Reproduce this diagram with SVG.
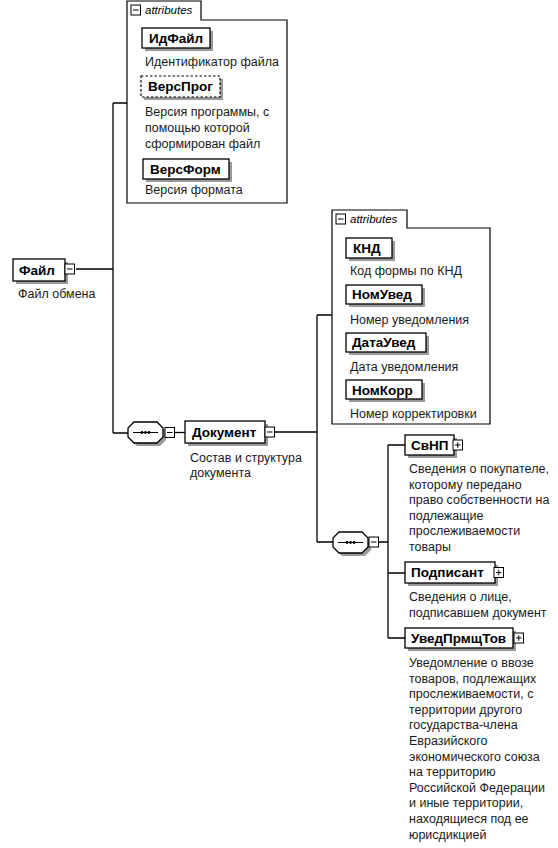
<svg xmlns="http://www.w3.org/2000/svg" width="558" height="848" viewBox="0 0 558 848">
<defs>
<style>
.bg{fill:#fff}
.box{fill:#fff;stroke:#000;stroke-width:1.3}
.dash{fill:#fff;stroke:#000;stroke-width:1.2;stroke-dasharray:2.5 2}
.sh{fill:#9a9a9a}
.attr{fill:#fff;stroke:#000;stroke-width:1.2}
.ln{fill:none;stroke:#000;stroke-width:1.3}
.ic{fill:#fff;stroke:#000;stroke-width:1}
.icl{fill:none;stroke:#000;stroke-width:1}
.nm{font-family:"Liberation Sans",Arial,sans-serif;font-weight:bold;font-size:13.5px;fill:#000}
.ds{font-family:"Liberation Sans",Arial,sans-serif;font-size:12.5px;fill:#1a1a1a}
.at{font-family:"Liberation Sans",Arial,sans-serif;font-style:italic;font-size:11.5px;fill:#000}
</style>
<g id="minus"><rect class="ic" x="0" y="0" width="9.5" height="10"/><path class="icl" d="M2 5H7.5"/></g>
<g id="plus"><rect class="ic" x="0" y="0" width="9.5" height="10"/><path class="icl" d="M2 5H7.5M4.75 2.2V7.8"/></g>
<g id="seq">
<polygon class="sh" points="9,3 32,3 38,9 38,18 32,24 9,24 3,18 3,9"/>
<polygon class="box" points="6,0 29,0 35,6 35,15 29,21 6,21 0,15 0,6"/>
<path class="icl" d="M5 10.5H30"/>
<circle cx="14" cy="10.5" r="1.4"/><circle cx="17.5" cy="10.5" r="1.4"/><circle cx="21" cy="10.5" r="1.4"/>
</g>
</defs>
<rect class="bg" x="0" y="0" width="558" height="848"/>

<g id="connectors">
<path class="ln" d="M76 269H113M113 103V433M113 103H127M113 433H128"/>
<path class="ln" d="M174 432.5H185"/>
<path class="ln" d="M275 432H317M317 315V542M317 315H332M317 542H333"/>
<path class="ln" d="M378 542H388M388 445V638M388 445H405M388 573H405M388 638H405"/>
</g>

<g id="attributes1">
<path class="attr" d="M127 1H201V20H287V203H127Z"/>
<use href="#minus" x="131" y="5"/>
<text class="at" x="145" y="14">attributes</text>
</g>
<g id="ИдФайл">
<rect class="sh" x="145" y="31" width="68" height="20"/>
<rect class="box" x="142" y="28" width="68" height="20"/>
<text class="nm" x="149" y="43">ИдФайл</text>
<text class="ds" x="145" y="66">Идентификатор файла</text>
</g>
<g id="ВерсПрог">
<rect class="sh" x="144" y="79" width="79" height="21"/>
<rect class="dash" x="141" y="76" width="79" height="21"/>
<text class="nm" x="148" y="91">ВерсПрог</text>
<text class="ds" x="145" y="116">Версия программы, с</text>
<text class="ds" x="145" y="132">помощью которой</text>
<text class="ds" x="145" y="148">сформирован файл</text>
</g>
<g id="ВерсФорм">
<rect class="sh" x="146" y="162" width="86" height="20"/>
<rect class="box" x="143" y="159" width="86" height="20"/>
<text class="nm" x="150" y="174">ВерсФорм</text>
<text class="ds" x="145" y="194">Версия формата</text>
</g>

<g id="Файл">
<rect class="sh" x="16" y="262" width="52" height="22"/>
<rect class="box" x="13" y="259" width="52" height="22"/>
<text class="nm" x="19" y="275">Файл</text>
<use href="#minus" x="65" y="264"/>
<text class="ds" x="18" y="298">Файл обмена</text>
</g>

<g id="seq1">
<use href="#seq" x="128" y="422"/>
<use href="#minus" x="165" y="427.5"/>
</g>

<g id="Документ">
<rect class="sh" x="188" y="424" width="80" height="22"/>
<rect class="box" x="185" y="421" width="80" height="22"/>
<text class="nm" x="192" y="437">Документ</text>
<use href="#minus" x="265" y="427"/>
<text class="ds" x="190" y="462">Состав и структура</text>
<text class="ds" x="190" y="477">документа</text>
</g>

<g id="attributes2">
<path class="attr" d="M332 210H407V228H490V424H332Z"/>
<use href="#minus" x="336" y="214"/>
<text class="at" x="350" y="223">attributes</text>
</g>
<g id="КНД">
<rect class="sh" x="349" y="241" width="46" height="20"/>
<rect class="box" x="346" y="238" width="46" height="20"/>
<text class="nm" x="353" y="253">КНД</text>
<text class="ds" x="350" y="275">Код формы по КНД</text>
</g>
<g id="НомУвед">
<rect class="sh" x="349" y="288" width="76" height="19"/>
<rect class="box" x="346" y="285" width="76" height="19"/>
<text class="nm" x="352" y="299">НомУвед</text>
<text class="ds" x="350" y="324">Номер уведомления</text>
</g>
<g id="ДатаУвед">
<rect class="sh" x="349" y="336" width="80" height="19"/>
<rect class="box" x="346" y="333" width="80" height="19"/>
<text class="nm" x="352" y="347">ДатаУвед</text>
<text class="ds" x="350" y="371">Дата уведомления</text>
</g>
<g id="НомКорр">
<rect class="sh" x="349" y="383" width="76" height="19"/>
<rect class="box" x="346" y="380" width="76" height="19"/>
<text class="nm" x="352" y="395">НомКорр</text>
<text class="ds" x="350" y="418">Номер корректировки</text>
</g>

<g id="seq2">
<use href="#seq" x="333" y="532"/>
<use href="#minus" x="369" y="537"/>
</g>

<g id="СвНП">
<rect class="sh" x="408" y="438" width="49" height="20"/>
<rect class="box" x="405" y="435" width="49" height="20"/>
<text class="nm" x="411" y="450">СвНП</text>
<use href="#plus" x="453" y="440"/>
<text class="ds" x="409" y="473">Сведения о покупателе,</text>
<text class="ds" x="409" y="488.6">которому передано</text>
<text class="ds" x="409" y="504.2">право собственности на</text>
<text class="ds" x="409" y="519.8">подлежащие</text>
<text class="ds" x="409" y="535.4">прослеживаемости</text>
<text class="ds" x="409" y="551">товары</text>
</g>

<g id="Подписант">
<rect class="sh" x="408" y="565" width="90" height="21"/>
<rect class="box" x="405" y="562" width="90" height="21"/>
<text class="nm" x="411" y="577">Подписант</text>
<use href="#plus" x="494" y="567.5"/>
<text class="ds" x="409" y="601">Сведения о лице,</text>
<text class="ds" x="409" y="617">подписавшем документ</text>
</g>

<g id="УведПрмщТов">
<rect class="sh" x="408" y="631" width="108" height="20"/>
<rect class="box" x="405" y="628" width="108" height="20"/>
<text class="nm" x="411" y="643">УведПрмщТов</text>
<use href="#plus" x="514" y="633"/>
<text class="ds" x="409" y="667">Уведомление о ввозе</text>
<text class="ds" x="409" y="682.6">товаров, подлежащих</text>
<text class="ds" x="409" y="698.2">прослеживаемости, с</text>
<text class="ds" x="409" y="713.8">территории другого</text>
<text class="ds" x="409" y="729.4">государства-члена</text>
<text class="ds" x="409" y="745">Евразийского</text>
<text class="ds" x="409" y="760.6">экономического союза</text>
<text class="ds" x="409" y="776.2">на территорию</text>
<text class="ds" x="409" y="791.8">Российской Федерации</text>
<text class="ds" x="409" y="807.4">и иные территории,</text>
<text class="ds" x="409" y="823">находящиеся под ее</text>
<text class="ds" x="409" y="838.6">юрисдикцией</text>
</g>
</svg>
